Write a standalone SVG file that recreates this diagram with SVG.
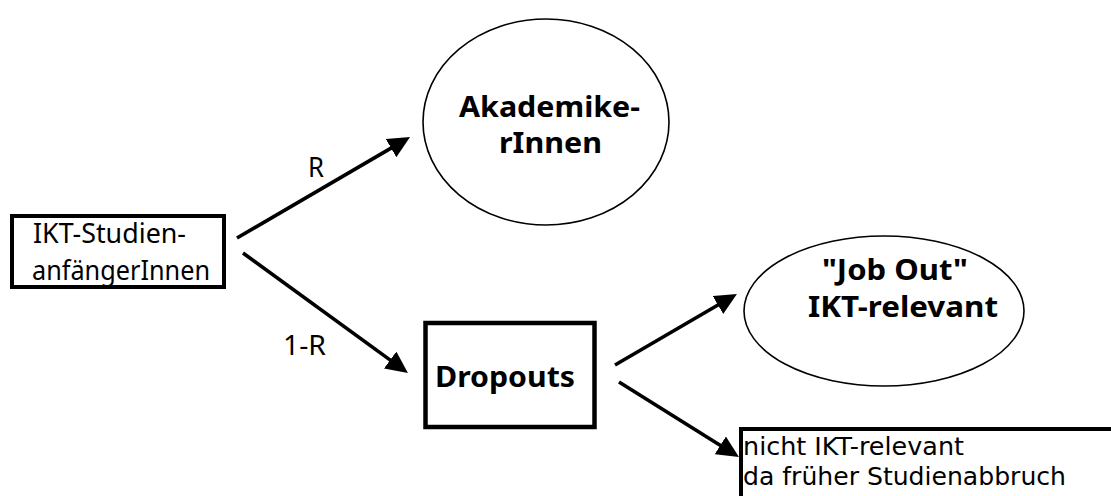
<svg xmlns="http://www.w3.org/2000/svg" width="1111" height="496" viewBox="0 0 1111 496">
<style>
.box{fill:#fff;stroke:#000;stroke-width:4.5}
.ell{fill:#fff;stroke:#000;stroke-width:1.6}
.t{font-family:"Noto Sans","DejaVu Sans",sans-serif;font-size:27px;fill:#000}
.s{font-family:"DejaVu Sans","Noto Sans",sans-serif;font-size:25.5px;fill:#000}
.b{font-family:"Noto Sans","DejaVu Sans",sans-serif;font-size:29px;font-weight:bold;fill:#000}
.c{stroke:#000;stroke-width:3.6;fill:none;marker-end:url(#ah)}
</style>
<defs>
<marker id="ah" markerUnits="userSpaceOnUse" markerWidth="24" markerHeight="22" refX="4" refY="10.5" orient="auto">
<path d="M0,0 L22,10.5 L0,21 z" fill="#000"/>
</marker>
</defs>
<rect width="1111" height="496" fill="#fff"/>
<g id="connectors">
<line class="c" x1="237" y1="238" x2="394.5" y2="146.1"/>
<line class="c" x1="243" y1="253" x2="393.4" y2="362.4"/>
<line class="c" x1="615" y1="365" x2="721.4" y2="303"/>
<line class="c" x1="619" y1="382" x2="723.7" y2="447.5"/>
<text class="t" x="308" y="177" textLength="16" lengthAdjust="spacingAndGlyphs">R</text>
<text class="t" x="283" y="355" textLength="43" lengthAdjust="spacingAndGlyphs">1-R</text>
</g>
<g id="start">
<rect class="box" x="12" y="216" width="212" height="71" style="stroke-width:4"/>
<text class="t" x="33" y="243" textLength="153" lengthAdjust="spacingAndGlyphs">IKT-Studien-</text>
<text class="t" x="32" y="280" textLength="178" lengthAdjust="spacingAndGlyphs">anfängerInnen</text>
</g>
<g id="akademiker">
<ellipse class="ell" cx="546" cy="122" rx="123" ry="103"/>
<text class="b" x="459" y="117" textLength="181" lengthAdjust="spacingAndGlyphs">Akademike-</text>
<text class="b" x="499" y="153" textLength="103" lengthAdjust="spacingAndGlyphs">rInnen</text>
</g>
<g id="dropouts">
<rect class="box" x="425.5" y="323" width="169" height="104"/>
<text class="b" x="435" y="387" textLength="140" lengthAdjust="spacingAndGlyphs">Dropouts</text>
</g>
<g id="jobout">
<ellipse class="ell" cx="884" cy="311" rx="140" ry="75"/>
<text class="b" x="822" y="280" textLength="146" lengthAdjust="spacingAndGlyphs">"Job Out"</text>
<text class="b" x="808" y="317" textLength="190" lengthAdjust="spacingAndGlyphs">IKT-relevant</text>
</g>
<g id="nicht">
<rect class="box" x="741" y="429" width="400" height="100" style="stroke-width:4"/>
<text class="s" x="743" y="455" textLength="221" lengthAdjust="spacingAndGlyphs">nicht IKT-relevant</text>
<text class="s" x="743" y="485" textLength="323" lengthAdjust="spacingAndGlyphs">da früher Studienabbruch</text>
</g>
</svg>
